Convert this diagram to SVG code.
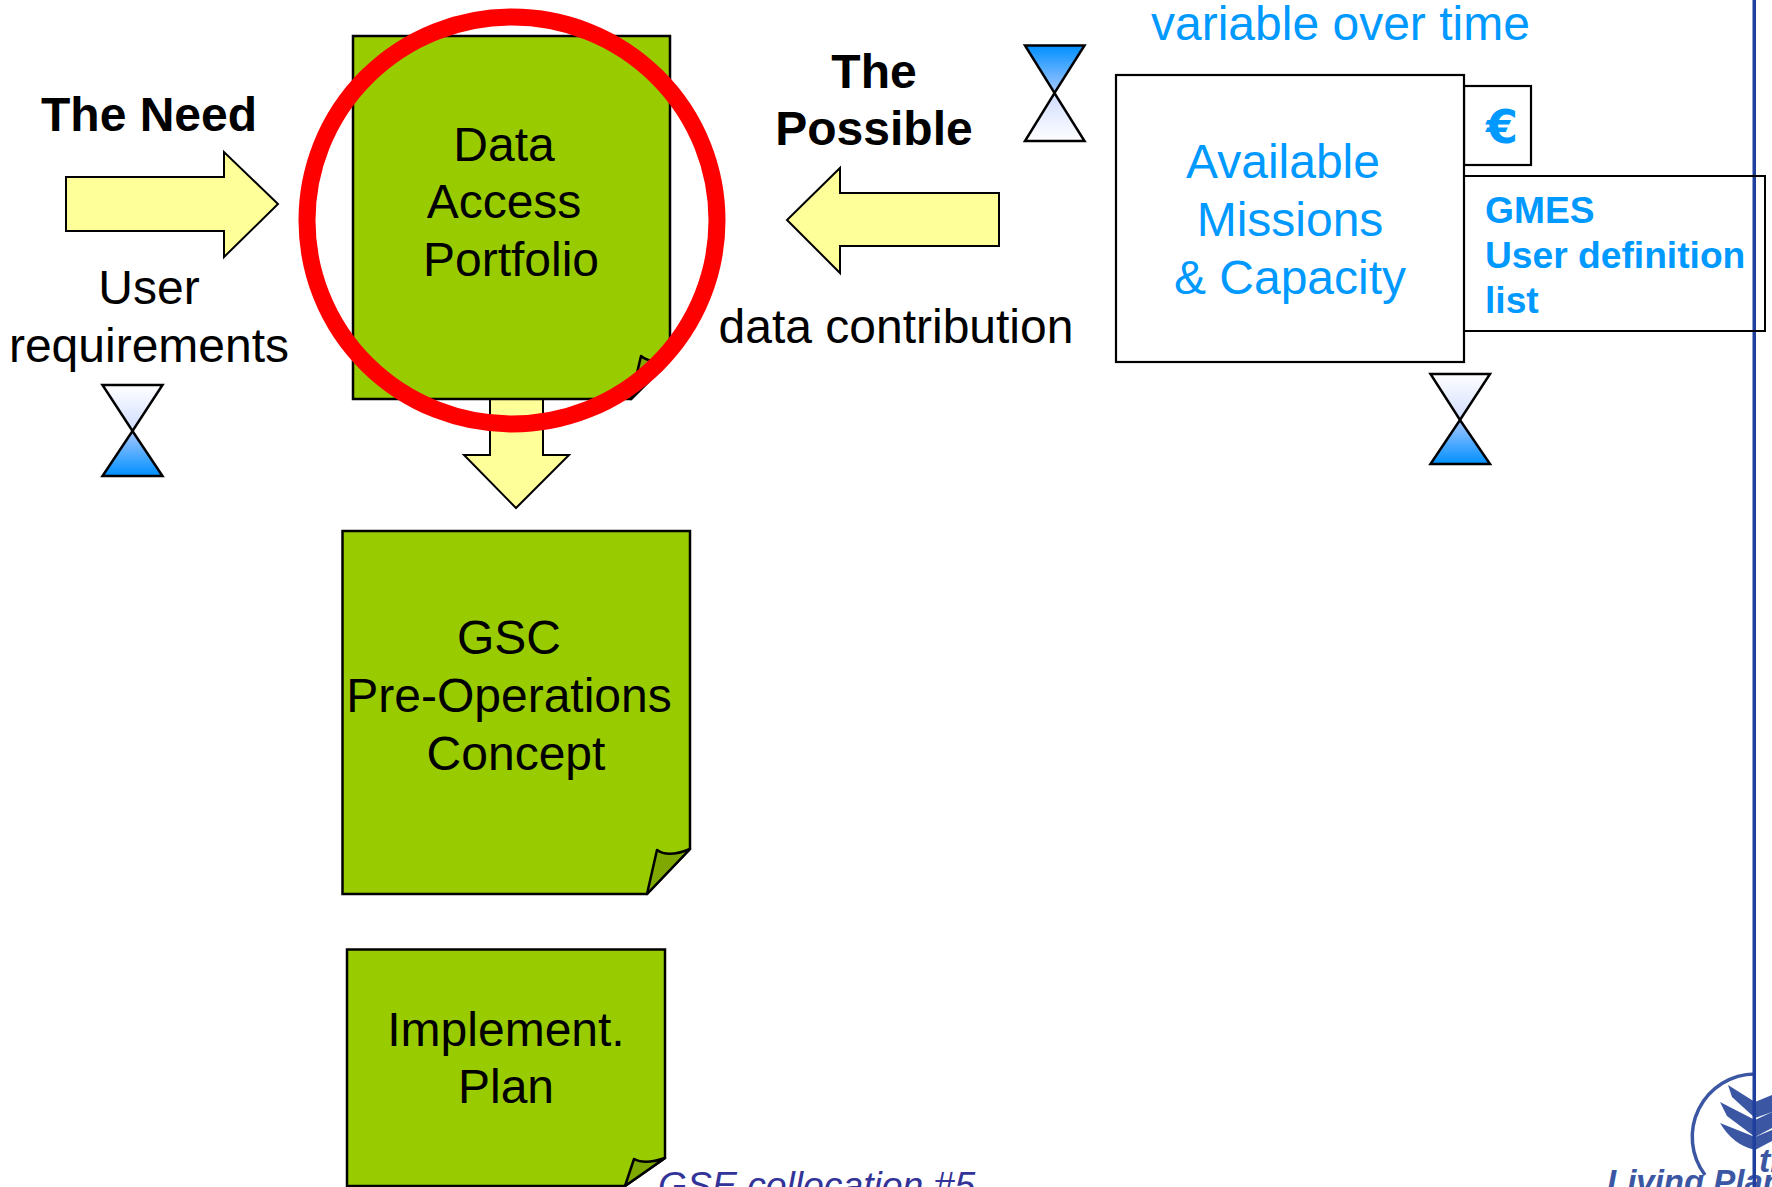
<svg xmlns="http://www.w3.org/2000/svg" width="1772" height="1187" viewBox="0 0 1772 1187">
<style>
text{font-family:"Liberation Sans",Arial,sans-serif;font-size:48px;fill:#000}
.m{text-anchor:middle}
.b{font-weight:bold}
.c{fill:#0099ff}
.g{font-size:37.200px;font-weight:bold;fill:#0099ff}
.doc{fill:#99cc00;stroke:#000;stroke-width:2.5}
.fold{fill:#7fa800;stroke:#000;stroke-width:2.5;stroke-linejoin:round}
.arr{fill:#ffff99;stroke:#000;stroke-width:2}
.box{fill:#fff;stroke:#000;stroke-width:2.200}
.hg{stroke:#000;stroke-width:2.500;stroke-linejoin:miter}
.logo{fill:#3b57a3}
.lt{font-weight:bold;font-style:italic;fill:#3b57a3}
</style>
<defs>
<linearGradient id="down" x1="0" y1="0" x2="0" y2="1"><stop offset="0" stop-color="#0090ff"/><stop offset="1" stop-color="#a8c8ff"/></linearGradient>
<linearGradient id="up" x1="0" y1="0" x2="0" y2="1"><stop offset="0" stop-color="#cfdcff"/><stop offset="1" stop-color="#ffffff"/></linearGradient>
<linearGradient id="down2" x1="0" y1="0" x2="0" y2="1"><stop offset="0" stop-color="#ffffff"/><stop offset="1" stop-color="#cfdcff"/></linearGradient>
<linearGradient id="up2" x1="0" y1="0" x2="0" y2="1"><stop offset="0" stop-color="#a8c8ff"/><stop offset="1" stop-color="#0090ff"/></linearGradient>
</defs>
<rect width="1772" height="1187" fill="#fff"/>
<g id="logo">
<path d="M1755 1074A63 63 0 0 0 1705 1175" fill="none" stroke="#3b57a3" stroke-width="3.500"/>
<path class="logo" d="M1728 1085L1755 1102L1772 1095V1112L1755 1118L1732 1097Z"/>
<path class="logo" d="M1720 1102L1755 1120L1772 1112V1128L1755 1137L1727 1116Z"/>
<path class="logo" d="M1720 1123L1755 1137V1150Q1733 1145 1720 1123Z"/>
<path class="logo" d="M1755 1137L1772 1130V1141L1755 1150Z"/>
<text x="1759" y="1172" class="lt" style="font-size:34px">the</text>
<text x="1607" y="1193" class="lt" style="font-size:33px">Living Planet</text>
</g>
<rect id="rule" x="1752.500" y="0" width="3.500" height="1187" fill="#1f3f9f"/>
<text id="footer" x="658" y="1198" style="font-size:37.300px;font-style:italic;fill:#333399">GSE collocation #5</text>
<g id="connectors">
<path class="arr" d="M66 177H224V152L278 204L224 257V231H66Z"/>
<path class="arr" d="M999 193H840V168L787 220L840 273V246H999Z"/>
<path class="arr" d="M490 399V455H464L516 508L569 455H543V399Z"/>
</g>
<g id="data-access">
<path class="doc" d="M353 36H670V360L631 399H353Z"/>
<path class="fold" d="M631 399L641 356Q650 364 670 360Z"/>
<text x="504" y="161" class="m">Data</text>
<text x="504" y="218" class="m">Access</text>
<text x="511" y="276" class="m">Portfolio</text>
</g>
<g id="gsc">
<path class="doc" d="M342.500 531H690V849L647 894H342.500Z"/>
<path class="fold" d="M647 894L657 850Q668 858 690 849Z"/>
<text x="509" y="654" class="m">GSC</text>
<text x="509" y="712" class="m">Pre-Operations</text>
<text x="516" y="770" class="m">Concept</text>
</g>
<g id="implement">
<path class="doc" d="M347 949.500H665V1158L625 1186H347Z"/>
<path class="fold" d="M625 1186L634 1159Q645 1165 665 1158Z"/>
<text x="506" y="1046" class="m">Implement.</text>
<text x="506" y="1103" class="m">Plan</text>
</g>
<ellipse id="highlight" cx="512" cy="220.500" rx="205" ry="203.500" fill="none" stroke="#ff0000" stroke-width="17"/>
<g id="need">
<text x="41" y="131" class="b">The Need</text>
<text x="149" y="304" class="m">User</text>
<text x="149" y="362" class="m">requirements</text>
</g>
<g id="possible">
<text x="874" y="88" class="m b">The</text>
<text x="874" y="145" class="m b">Possible</text>
<text x="718.500" y="343">data contribution</text>
</g>
<g id="hourglass-left">
<path class="hg" fill="url(#down2)" d="M102.500 385H162.500L132.500 431Z"/>
<path class="hg" fill="url(#up2)" d="M102.500 476H162.500L132.500 431Z"/>
</g>
<g id="hourglass-top">
<path class="hg" fill="url(#down)" d="M1025 45.500H1084.500L1054.500 93Z"/>
<path class="hg" fill="url(#up)" d="M1025 141H1084.500L1054.500 93Z"/>
</g>
<g id="hourglass-right">
<path class="hg" fill="url(#down2)" d="M1430.500 374H1490L1460 420Z"/>
<path class="hg" fill="url(#up2)" d="M1430.500 464H1490L1460 420Z"/>
</g>
<text id="variable" x="1151" y="40" class="c">variable over time</text>
<g id="euro">
<rect class="box" x="1464" y="86" width="67" height="79"/>
<text x="1486" y="143" class="c b" style="font-family:'DejaVu Sans',sans-serif;font-size:46px">€</text>
</g>
<g id="gmes">
<rect x="1464" y="176" width="301" height="155" fill="none" stroke="#000" stroke-width="2"/>
<text x="1485" y="223" class="g">GMES</text>
<text x="1485" y="268" class="g">User definition</text>
<text x="1485" y="313" class="g">list</text>
</g>
<g id="missions">
<rect class="box" x="1116" y="75" width="348" height="287"/>
<text x="1283" y="178" class="m c">Available</text>
<text x="1290" y="236" class="m c">Missions</text>
<text x="1290" y="294" class="m c">&amp; Capacity</text>
</g>
</svg>
